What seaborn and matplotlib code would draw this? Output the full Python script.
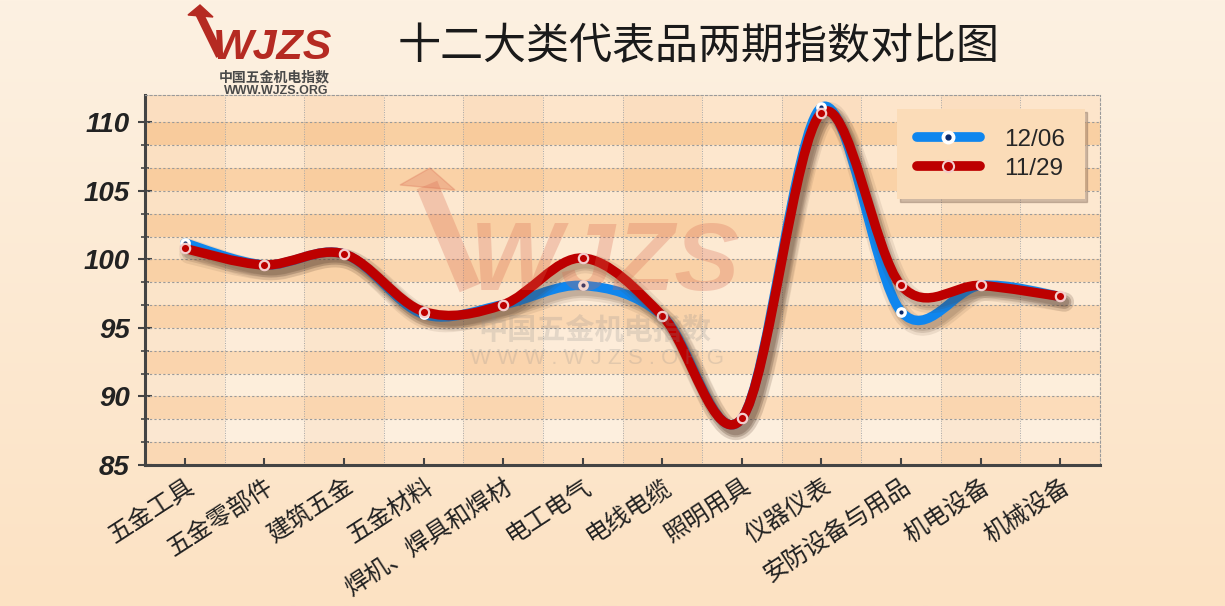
import numpy as np
import pandas as pd
import matplotlib
matplotlib.use('Agg')
import matplotlib.pyplot as plt
import matplotlib.patheffects as pe
from matplotlib.path import Path
from matplotlib.patches import PathPatch
from matplotlib.lines import Line2D
from matplotlib.colors import to_rgb
import seaborn as sns

# data
categories = ['五金工具', '五金零部件', '建筑五金', '五金材料', '焊机、焊具和焊材', '电工电气',
              '电线电缆', '照明用具', '仪器仪表', '安防设备与用品', '机电设备', '机械设备']
idx_1206 = [101.2, 99.6, 100.4, 96.0, 96.7, 98.1, 95.9, 88.4, 111.1, 96.2, 98.1, 97.3]
idx_1129 = [100.8, 99.6, 100.4, 96.2, 96.7, 100.1, 95.9, 88.4, 110.7, 98.1, 98.1, 97.3]
series_names = ['12/06', '11/29']
yticks = [85, 90, 95, 100, 105, 110]
title = '十二大类代表品两期指数对比图'

BLUE = '#0f86ee'
RED = '#bd0000'

sns.set_theme(style='white')
plt.rcParams['font.family'] = ['Noto Sans CJK SC', 'DejaVu Sans']


# smooth curve through the points (catmull-rom -> bezier)
def smoothPath(ys):
    pts = np.column_stack([np.arange(len(ys)), ys]).astype(float)
    ext = np.vstack([pts[0], pts, pts[-1]])
    verts = [pts[0]]
    codes = [Path.MOVETO]
    for i in range(len(pts) - 1):
        p0, p1, p2, p3 = ext[i], ext[i + 1], ext[i + 2], ext[i + 3]
        verts += [p1 + (p2 - p0) / 6, p2 - (p3 - p1) / 6, p2]
        codes += [Path.CURVE4] * 3
    return Path(verts, codes)


def mix(c1, c2, t):
    a, b = np.array(to_rgb(c1)), np.array(to_rgb(c2))
    return tuple(a + (b - a) * t)


fig = plt.figure(figsize=(12.25, 6.06), dpi=100)

# figure background gradient
bg = fig.add_axes([0, 0, 1, 1], zorder=-10)
grad = np.linspace(0, 1, 256)[:, None]
top_c, bot_c = np.array(to_rgb('#fdf1e2')), np.array(to_rgb('#fce2c3'))
img = top_c[None, None, :] + (bot_c - top_c)[None, None, :] * grad[:, :, None]
bg.imshow(img, aspect='auto', extent=[0, 1, 0, 1])
bg.axis('off')

ax = fig.add_axes([145 / 1225, 1 - 465 / 606, 955 / 1225, 370 / 606])
ax.set_facecolor('none')
ymin, ymax = 85, 112
step = 5 / 3
ax.set_xlim(-0.5, len(categories) - 0.5)
ax.set_ylim(ymin, ymax)

# row bands
edges = [ymin + k * step for k in range(16)] + [ymax]
for k in range(len(edges) - 1):
    lo, hi = edges[k], edges[k + 1]
    t = 1 - ((lo + hi) / 2 - ymin) / (ymax - ymin)
    if k % 2 == 0:
        col = mix('#fcdfbf', '#f9cea0', 1 - t)
    else:
        col = mix('#fdf0e0', '#fde5ca', 1 - t)
    ax.axhspan(lo, hi, color=col, lw=0, zorder=0)
# column shading
for i in range(0, len(categories), 2):
    ax.axvspan(i - 0.5, i + 0.5, color='#f2a860', alpha=0.10, lw=0, zorder=0.5)
# grid
for y in edges[1:-1]:
    ax.axhline(y, color='#9a9a9a', lw=0.8, ls=(0, (2, 2)), zorder=1)
for i in range(len(categories) - 1):
    ax.axvline(i + 0.5, color='#a8a8a8', lw=0.7, ls=(0, (1, 1.5)), zorder=1)

# watermark
fig.text(470 / 1225, 1 - 290 / 606, 'WJZS', fontsize=70, fontweight='bold', fontstyle='italic',
         family='Liberation Sans', color='#d8684e', alpha=0.28, zorder=1)
fig.patches.append(plt.Polygon([[400 / 1225, 1 - 185 / 606], [430 / 1225, 1 - 168 / 606],
                                [455 / 1225, 1 - 190 / 606]], closed=True, transform=fig.transFigure,
                               color='#d8684e', alpha=0.28))
fig.add_artist(Line2D([427 / 1225, 470 / 1225], [1 - 185 / 606, 1 - 288 / 606], color='#d8684e',
                      alpha=0.28, lw=16, solid_capstyle='butt'))
fig.text(595 / 1225, 1 - 330 / 606, '中国五金机电指数', fontsize=21, fontweight='bold',
         color='#8a8a8a', alpha=0.22, ha='center', va='center')
fig.text(597 / 1225, 1 - 358 / 606, 'W W W . W J Z S . O R G', fontsize=16, family='Liberation Sans',
         color='#8a8a8a', alpha=0.22, ha='center', va='center')

# curves
shadow = [pe.SimpleLineShadow(offset=(3, -4), shadow_color='#5a4030', alpha=0.10, linewidth=14),
          pe.SimpleLineShadow(offset=(3, -4), shadow_color='#5a4030', alpha=0.15, linewidth=10),
          pe.SimpleLineShadow(offset=(3, -4), shadow_color='#5a4030', alpha=0.15, linewidth=7),
          pe.Normal()]
for vals, color, z in [(idx_1206, BLUE, 3), (idx_1129, RED, 5)]:
    patch = PathPatch(smoothPath(vals), fill=False, edgecolor=color, lw=6.8, capstyle='round',
                      joinstyle='round', zorder=z)
    patch.set_path_effects(shadow)
    ax.add_patch(patch)

# markers
pos = list(range(len(categories)))
df = pd.DataFrame({'pos': pos * 2, 'value': idx_1206 + idx_1129,
                   'series': [series_names[0]] * len(pos) + [series_names[1]] * len(pos)})
d1 = df[df['series'] == series_names[0]]
d2 = df[df['series'] == series_names[1]]
sns.scatterplot(data=d1, x='pos', y='value', ax=ax, s=60, color='white', edgecolor='white',
                linewidth=0, zorder=7, legend=False)
sns.scatterplot(data=d1, x='pos', y='value', ax=ax, s=9, color='#0b2a6b', edgecolor='#0b2a6b',
                linewidth=0, zorder=8, legend=False)
sns.scatterplot(data=d2, x='pos', y='value', ax=ax, s=45, color=RED, edgecolor='#f3cccc',
                linewidth=1.6, zorder=9, legend=False)
ax.set_xlim(-0.5, len(categories) - 0.5)
ax.set_ylim(ymin, ymax)

# axes
ax.set_xlabel('')
ax.set_ylabel('')
ax.set_xticks(pos)
ax.set_xticklabels(categories, rotation=33, ha='right', va='top', rotation_mode='anchor',
                   fontsize=17.5, color='#222222')
ax.tick_params(axis='x', direction='in', length=5, width=1.5, color='#444444', pad=6, bottom=True)
ax.set_yticks(yticks)
ax.set_yticklabels([str(v) for v in yticks], fontsize=20, fontweight='bold', fontstyle='italic',
                   family='Liberation Sans', color='#222222')
ax.set_yticks(edges[1:-1], minor=True)
ax.tick_params(axis='y', which='major', direction='inout', length=10, width=1.5, color='#444444',
               pad=6, left=True)
ax.tick_params(axis='y', which='minor', direction='inout', length=6, width=1.2, color='#444444',
               left=True)
for s in ['left', 'bottom']:
    ax.spines[s].set_color('#444444')
    ax.spines[s].set_linewidth(2.2)
for s in ['top', 'right']:
    ax.spines[s].set_color('#9a9a9a')
    ax.spines[s].set_linewidth(0.8)
    ax.spines[s].set_linestyle((0, (2, 2)))

# legend
h1 = (Line2D([], [], color=BLUE, lw=7, marker='o', ms=9, mfc='white', mec='white', solid_capstyle='round'),
      Line2D([], [], ls='none', marker='o', ms=3.5, mfc='#0b2a6b', mec='#0b2a6b'))
h2 = Line2D([], [], color=RED, lw=7, marker='o', ms=8, mfc=RED, mec='#f3cccc', mew=1.5, solid_capstyle='round')
leg = ax.legend([h1, h2], series_names, loc='upper right', bbox_to_anchor=(0.984, 0.962),
                prop={'family': 'Liberation Sans', 'size': 17.5}, frameon=True, fancybox=False,
                facecolor='#fbdcb8', edgecolor='none', framealpha=1,
                shadow={'color': '#7a6050', 'alpha': 0.35}, handlelength=2.6, labelspacing=0.3,
                borderpad=0.8, handletextpad=1.0, borderaxespad=0)
leg.set_zorder(20)

# title and logo
fig.text(699 / 1225, 1 - 47 / 606, title, fontsize=31, fontweight='light', ha='center', va='center',
         color='#1a1a1a')
fig.text(213 / 1225, 1 - 59 / 606, 'WJZS', fontsize=31, fontweight='bold', fontstyle='italic',
         family='Liberation Sans', color='#b52a22', va='baseline')
fig.patches.append(plt.Polygon([[188 / 1225, 1 - 15 / 606], [200 / 1225, 1 - 5 / 606],
                                [213 / 1225, 1 - 17 / 606]], closed=True, transform=fig.transFigure,
                               color='#b52a22'))
fig.add_artist(Line2D([199 / 1225, 220 / 1225], [1 - 13 / 606, 1 - 56 / 606], color='#b52a22',
                      lw=6, solid_capstyle='butt'))
fig.text(274 / 1225, 1 - 77 / 606, '中国五金机电指数', fontsize=10, fontweight='bold',
         color='#4a4a4a', ha='center', va='center')
fig.text(276 / 1225, 1 - 91 / 606, 'WWW.WJZS.ORG', fontsize=9, fontweight='bold',
         family='Liberation Sans', color='#4a4a4a', ha='center', va='center')

fig.savefig('out.png', dpi=100)
